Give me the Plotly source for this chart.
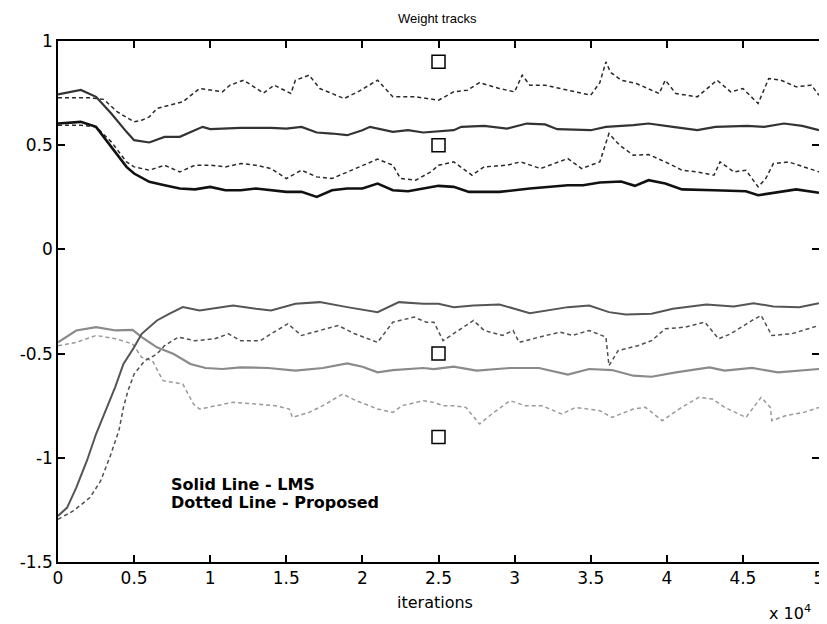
import plotly.graph_objects as go

# x values are in units of 10^4 iterations
s1_x = [0, 0.2, 0.3, 0.39, 0.5, 0.55, 0.6, 0.65, 0.82, 0.93, 1.08, 1.13, 1.22, 1.35, 1.42, 1.53, 1.56, 1.65, 1.72, 1.88,
        1.97, 2.1, 2.2, 2.35, 2.5, 2.6, 2.69, 2.77, 2.9, 3.0, 3.05, 3.1, 3.2, 3.4, 3.5, 3.56, 3.6, 3.63, 3.7, 3.8,
        3.95, 3.99, 4.06, 4.2, 4.33, 4.42, 4.5, 4.6, 4.67, 4.75, 4.85, 4.95, 5.0]
s1_y = [0.728, 0.728, 0.72, 0.66, 0.612, 0.62, 0.636, 0.676, 0.708, 0.772, 0.756, 0.788, 0.812, 0.75, 0.788, 0.748, 0.812, 0.836, 0.772, 0.724,
        0.756, 0.812, 0.732, 0.732, 0.716, 0.756, 0.764, 0.80, 0.772, 0.756, 0.836, 0.788, 0.788, 0.756, 0.74, 0.80, 0.90, 0.85, 0.812, 0.796,
        0.748, 0.812, 0.748, 0.732, 0.812, 0.756, 0.772, 0.70, 0.82, 0.812, 0.78, 0.788, 0.74]

s2_x = [0, 0.15, 0.25, 0.35, 0.45, 0.5, 0.6, 0.7, 0.8, 0.9, 0.95, 1.0, 1.2, 1.4, 1.5, 1.6, 1.7, 1.8, 1.9, 2.0,
        2.05, 2.2, 2.3, 2.4, 2.5, 2.6, 2.65, 2.8, 2.95, 3.08, 3.2, 3.28, 3.5, 3.6, 3.78, 3.88, 4.04, 4.2, 4.32, 4.53,
        4.64, 4.77, 4.89, 5.0]
s2_y = [0.744, 0.765, 0.732, 0.652, 0.564, 0.524, 0.513, 0.54, 0.54, 0.572, 0.588, 0.577, 0.583, 0.583, 0.58, 0.588, 0.561, 0.556, 0.548, 0.572,
        0.588, 0.564, 0.572, 0.561, 0.567, 0.572, 0.588, 0.593, 0.58, 0.604, 0.6, 0.577, 0.572, 0.588, 0.596, 0.604, 0.588, 0.572, 0.588, 0.593,
        0.588, 0.604, 0.593, 0.572]

s3_x = [0, 0.15, 0.25, 0.35, 0.45, 0.5, 0.6, 0.7, 0.8, 0.9, 1.0, 1.1, 1.2, 1.3, 1.4, 1.5, 1.6, 1.7, 1.8, 1.9,
        2.0, 2.1, 2.2, 2.25, 2.35, 2.45, 2.5, 2.6, 2.72, 2.8, 2.95, 3.04, 3.17, 3.35, 3.44, 3.56, 3.62, 3.69, 3.78, 3.88,
        3.99, 4.1, 4.2, 4.31, 4.35, 4.44, 4.52, 4.6, 4.65, 4.7, 4.8, 5.0]
s3_y = [0.596, 0.596, 0.588, 0.516, 0.42, 0.396, 0.38, 0.404, 0.372, 0.404, 0.404, 0.396, 0.412, 0.404, 0.388, 0.34, 0.38, 0.348, 0.34, 0.372,
        0.404, 0.433, 0.404, 0.34, 0.332, 0.372, 0.404, 0.42, 0.356, 0.396, 0.404, 0.42, 0.388, 0.436, 0.388, 0.42, 0.556, 0.5, 0.452, 0.455,
        0.42, 0.38, 0.372, 0.356, 0.42, 0.372, 0.38, 0.30, 0.34, 0.412, 0.42, 0.372]

s4_x = [0, 0.15, 0.25, 0.35, 0.45, 0.5, 0.6, 0.7, 0.8, 0.9, 1.0, 1.1, 1.2, 1.3, 1.4, 1.5, 1.6, 1.7, 1.8, 1.9,
        2.0, 2.1, 2.2, 2.3, 2.4, 2.5, 2.6, 2.7, 2.9, 3.1, 3.35, 3.45, 3.56, 3.7, 3.79, 3.88, 3.99, 4.1, 4.31, 4.52,
        4.6, 4.74, 4.85, 5.0]
s4_y = [0.604, 0.612, 0.588, 0.492, 0.396, 0.364, 0.324, 0.308, 0.292, 0.288, 0.300, 0.284, 0.284, 0.292, 0.284, 0.276, 0.276, 0.252, 0.284, 0.292,
        0.292, 0.316, 0.284, 0.279, 0.292, 0.305, 0.300, 0.276, 0.276, 0.292, 0.308, 0.308, 0.321, 0.326, 0.305, 0.332, 0.316, 0.288, 0.284, 0.279,
        0.26, 0.276, 0.288, 0.272]

s5_x = [0, 0.06, 0.12, 0.19, 0.25, 0.32, 0.375, 0.43, 0.5, 0.55, 0.65, 0.73, 0.82, 0.93, 1.0, 1.15, 1.3, 1.4, 1.56, 1.72,
        1.9, 2.1, 2.24, 2.4, 2.5, 2.6, 2.73, 2.9, 3.1, 3.35, 3.49, 3.62, 3.73, 3.9, 4.04, 4.26, 4.44, 4.57, 4.7, 4.87, 5.0]
s5_y = [-1.279, -1.239, -1.143, -1.014, -0.886, -0.758, -0.662, -0.55, -0.47, -0.405, -0.341, -0.309, -0.277, -0.293, -0.285, -0.269, -0.285, -0.293, -0.261, -0.253,
        -0.277, -0.301, -0.253, -0.261, -0.261, -0.277, -0.269, -0.264, -0.306, -0.277, -0.269, -0.301, -0.312, -0.309, -0.285, -0.264, -0.274, -0.258, -0.274, -0.277, -0.258]

s6_x = [0, 0.1, 0.21, 0.28, 0.34, 0.4, 0.43, 0.46, 0.5, 0.57, 0.65, 0.7, 0.79, 0.9, 1.03, 1.12, 1.2, 1.33, 1.4, 1.51,
        1.6, 1.73, 1.84, 1.95, 2.1, 2.2, 2.34, 2.42, 2.47, 2.53, 2.6, 2.73, 2.8, 2.92, 2.99, 3.03, 3.16, 3.3, 3.38, 3.49,
        3.6, 3.62, 3.68, 3.81, 3.9, 3.99, 4.12, 4.25, 4.34, 4.42, 4.56, 4.62, 4.69, 4.82, 5.0]
s6_y = [-1.295, -1.255, -1.191, -1.111, -0.998, -0.87, -0.758, -0.678, -0.598, -0.534, -0.502, -0.462, -0.421, -0.438, -0.429, -0.405, -0.438, -0.438, -0.405, -0.357,
        -0.413, -0.389, -0.365, -0.405, -0.446, -0.349, -0.325, -0.349, -0.349, -0.438, -0.405, -0.341, -0.389, -0.413, -0.389, -0.446, -0.421, -0.397, -0.413, -0.389,
        -0.421, -0.558, -0.486, -0.462, -0.438, -0.381, -0.373, -0.349, -0.429, -0.405, -0.341, -0.317, -0.413, -0.405, -0.365]

s7_x = [0, 0.12, 0.25, 0.38, 0.49, 0.55, 0.65, 0.76, 0.87, 0.97, 1.08, 1.2, 1.38, 1.56, 1.74, 1.9, 2.0, 2.1, 2.2, 2.4,
        2.47, 2.6, 2.75, 2.97, 3.16, 3.35, 3.49, 3.64, 3.78, 3.9, 4.06, 4.28, 4.38, 4.56, 4.73, 4.87, 5.0]
s7_y = [-0.446, -0.389, -0.373, -0.389, -0.386, -0.421, -0.47, -0.502, -0.55, -0.569, -0.574, -0.566, -0.569, -0.582, -0.569, -0.547, -0.563, -0.59, -0.579, -0.569,
        -0.574, -0.563, -0.582, -0.569, -0.569, -0.601, -0.574, -0.579, -0.606, -0.611, -0.59, -0.566, -0.582, -0.569, -0.59, -0.582, -0.574]

s8_x = [0, 0.12, 0.25, 0.38, 0.49, 0.55, 0.62, 0.69, 0.82, 0.89, 0.93, 1.04, 1.15, 1.3, 1.43, 1.52, 1.54, 1.65, 1.74, 1.87,
        1.96, 2.1, 2.2, 2.26, 2.4, 2.47, 2.53, 2.6, 2.68, 2.77, 2.85, 2.97, 3.07, 3.18, 3.31, 3.4, 3.56, 3.64, 3.78, 3.86,
        3.97, 4.08, 4.21, 4.3, 4.38, 4.52, 4.62, 4.68, 4.69, 4.78, 4.9, 5.0]
s8_y = [-0.462, -0.446, -0.413, -0.429, -0.454, -0.518, -0.534, -0.63, -0.646, -0.742, -0.766, -0.75, -0.734, -0.742, -0.75, -0.766, -0.806, -0.782, -0.75, -0.694,
        -0.726, -0.766, -0.782, -0.75, -0.726, -0.734, -0.75, -0.75, -0.758, -0.838, -0.79, -0.726, -0.75, -0.75, -0.79, -0.758, -0.774, -0.806, -0.766, -0.758,
        -0.822, -0.766, -0.71, -0.718, -0.758, -0.806, -0.71, -0.758, -0.822, -0.798, -0.782, -0.758]

# optimal weights (square markers)
opt_x = [2.5, 2.5, 2.5, 2.5]
opt_y = [0.9, 0.5, -0.5, -0.9]

x_ticks = [0, 0.5, 1, 1.5, 2, 2.5, 3, 3.5, 4, 4.5, 5]
x_tick_text = ["0", "0.5", "1", "1.5", "2", "2.5", "3", "3.5", "4", "4.5", "5"]
y_ticks = [-1.5, -1, -0.5, 0, 0.5, 1]
y_tick_text = ["-1.5", "-1", "-0.5", "0", "0.5", "1"]

series = [
    (s8_x, s8_y, "#9a9a9a", 1.5, "4px,3px"),
    (s7_x, s7_y, "#8a8a8a", 2.2, "solid"),
    (s6_x, s6_y, "#505050", 1.5, "4px,3px"),
    (s5_x, s5_y, "#555555", 2.0, "solid"),
    (s1_x, s1_y, "#2a2a2a", 1.5, "4px,3px"),
    (s3_x, s3_y, "#2a2a2a", 1.5, "4px,3px"),
    (s2_x, s2_y, "#333333", 2.2, "solid"),
    (s4_x, s4_y, "#111111", 2.6, "solid"),
]

fig = go.Figure()
for xs, ys, col, w, dash in series:
    fig.add_trace(go.Scatter(x=xs, y=ys, mode="lines",
                             line=dict(color=col, width=w, dash=dash),
                             hoverinfo="skip"))

fig.add_trace(go.Scatter(x=opt_x, y=opt_y, mode="markers",
                         marker=dict(symbol="square-open", size=13,
                                     color="black", line=dict(width=1.5, color="black")),
                         hoverinfo="skip"))

axis_common = dict(showline=True, linecolor="black", linewidth=1.5, mirror="ticks",
                   ticks="inside", ticklen=7, tickwidth=1.5, tickcolor="black",
                   showgrid=False, zeroline=False, ticklabeloverflow="allow",
                   tickfont=dict(family="DejaVu Sans", size=17, color="black"))

fig.update_xaxes(range=[0, 5], tickvals=x_ticks, ticktext=x_tick_text, **axis_common)
fig.update_yaxes(range=[-1.5, 1], tickvals=y_ticks, ticktext=y_tick_text, **axis_common)

# page body has an 8px margin; size the figure so the plot box lands at 58..822 x 41..562
fig.update_layout(
    width=819, height=616,
    margin=dict(l=50, r=3, t=33, b=62),
    plot_bgcolor="white", paper_bgcolor="white",
    showlegend=False,
)

fig.add_annotation(text="Weight tracks", xref="paper", yref="paper",
                   x=0.499, y=1.044, xanchor="center", yanchor="middle",
                   showarrow=False, font=dict(family="Arial", size=13, color="black"))
fig.add_annotation(text="iterations", xref="paper", yref="paper",
                   x=0.496, y=-0.077, xanchor="center", yanchor="middle",
                   showarrow=False, font=dict(family="DejaVu Sans", size=16, color="black"))
fig.add_annotation(text="x 10<sup>4</sup>", xref="paper", yref="paper",
                   x=0.932, y=-0.097, xanchor="left", yanchor="middle",
                   showarrow=False, font=dict(family="DejaVu Sans", size=16, color="black"))
fig.add_annotation(text="<b>Solid Line - LMS</b>", xref="x", yref="y",
                   x=0.73, y=-1.13, xanchor="left", yanchor="middle",
                   showarrow=False, font=dict(family="DejaVu Sans", size=16, color="black"))
fig.add_annotation(text="<b>Dotted Line - Proposed</b>", xref="x", yref="y",
                   x=0.73, y=-1.216, xanchor="left", yanchor="middle",
                   showarrow=False, font=dict(family="DejaVu Sans", size=16, color="black"))

fig.write_html("out.html")
